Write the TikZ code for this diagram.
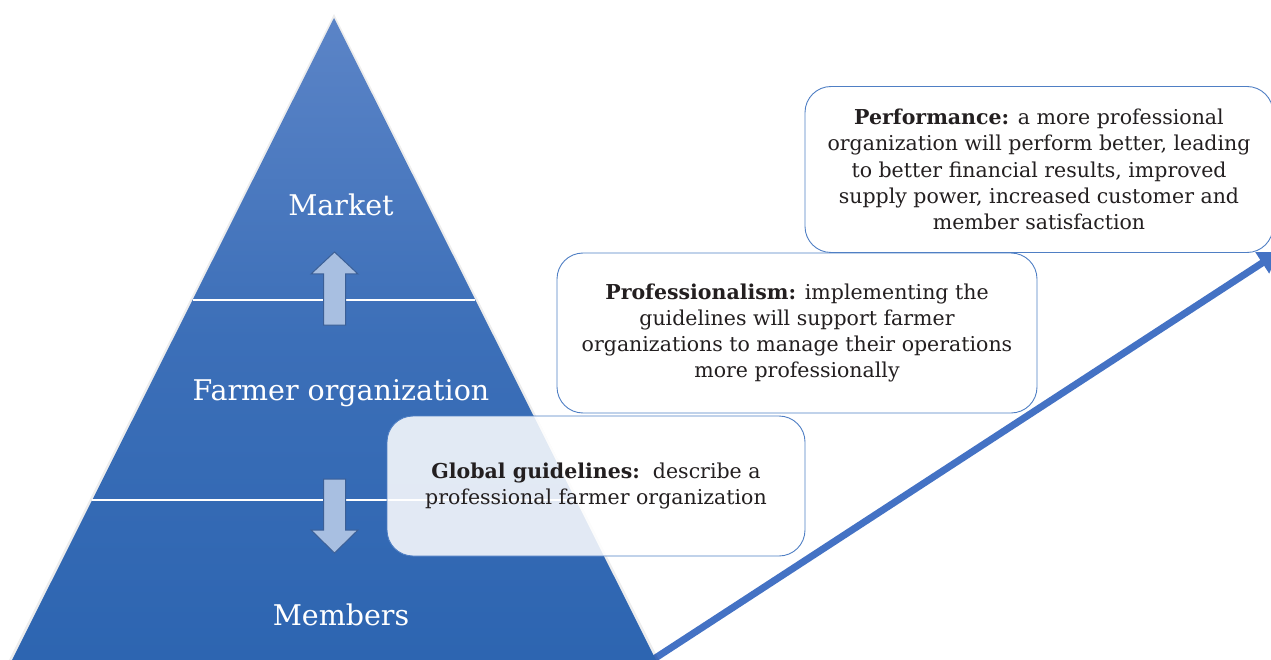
\documentclass[tikz,border=0pt]{standalone}
\usepackage{fontspec}
\setmainfont{DejaVu Serif}
\usetikzlibrary{arrows.meta}
\definecolor{pyrtop}{HTML}{5B84C7}
\definecolor{pyrmid}{HTML}{3C6FB8}
\definecolor{pyrbot}{HTML}{2D65B1}
\definecolor{blockfill}{HTML}{A8BFE1}
\definecolor{blockline}{HTML}{3B5F96}
\definecolor{boxline}{HTML}{4F7FC4}
\definecolor{arrowblue}{HTML}{4472C4}
\definecolor{txt}{HTML}{231F20}
\tikzset{
  infobox/.style={draw=boxline, line width=0.9pt, rounded corners=26pt, fill=white, fill opacity=0.86, text opacity=1, text=txt, align=center, inner sep=0pt, font=\fontsize{20.5}{26.2}\selectfont},
  levellabel/.style={text=white, font=\fontsize{28.5}{36}\selectfont, inner sep=0pt},
  blockarrow/.style={fill=blockfill, draw=blockline, line width=1pt},
  divider/.style={draw=white, line width=1.2pt},
  growth/.style={draw=arrowblue, line width=7pt, -{Triangle[length=20pt,width=24pt]}}
}
\begin{document}
\begin{tikzpicture}[x=1pt,y=-1pt]
\useasboundingbox (0,0) rectangle (1271,660);
\clip (0,0) rectangle (1271,660);
% growth arrow (behind pyramid)
\coordinate (gstart) at (640,668);
\coordinate (gend) at (1279,252);
\draw[growth] (gstart) -- (gend);
% pyramid with soft shadow
\fill[black, opacity=0.07] (334,14) -- (8,662) -- (660,662) -- cycle;
\shade[top color=pyrtop, bottom color=pyrbot, middle color=pyrmid] (334,18) -- (12,660) -- (656,660) -- cycle;
\draw[divider] (192.6,300) -- (475.4,300);
\draw[divider] (92.2,500) -- (575.8,500);
% block arrows
\draw[blockarrow] (334.5,252) -- (358,274) -- (345.5,274) -- (345.5,325) -- (323.5,325) -- (323.5,274) -- (311,274) -- cycle;
\draw[blockarrow] (323.5,479) -- (345.5,479) -- (345.5,530) -- (358,530) -- (334.5,553) -- (311,530) -- (323.5,530) -- cycle;
% level labels
\node[levellabel] (market) at (341,205) {Market};
\node[levellabel] (farmer) at (341,393) {Farmer organization};
\node[levellabel] (members) at (341,615) {Members};
% info boxes
\node[infobox, minimum width=418pt, minimum height=140pt] (global) at (596,486)
  {\textbf{Global guidelines:}\ \ describe a\\professional farmer organization};
\node[infobox, minimum width=480pt, minimum height=160pt] (prof) at (797,333)
  {\textbf{Professionalism:} implementing the\\guidelines will support farmer\\organizations to manage their operations\\more professionally};
\node[infobox, minimum width=468pt, minimum height=166pt] (perf) at (1039,169.5)
  {\textbf{Performance:} a more professional\\organization will perform better, leading\\to better financial results, improved\\supply power, increased customer and\\member satisfaction};
\end{tikzpicture}
\end{document}
